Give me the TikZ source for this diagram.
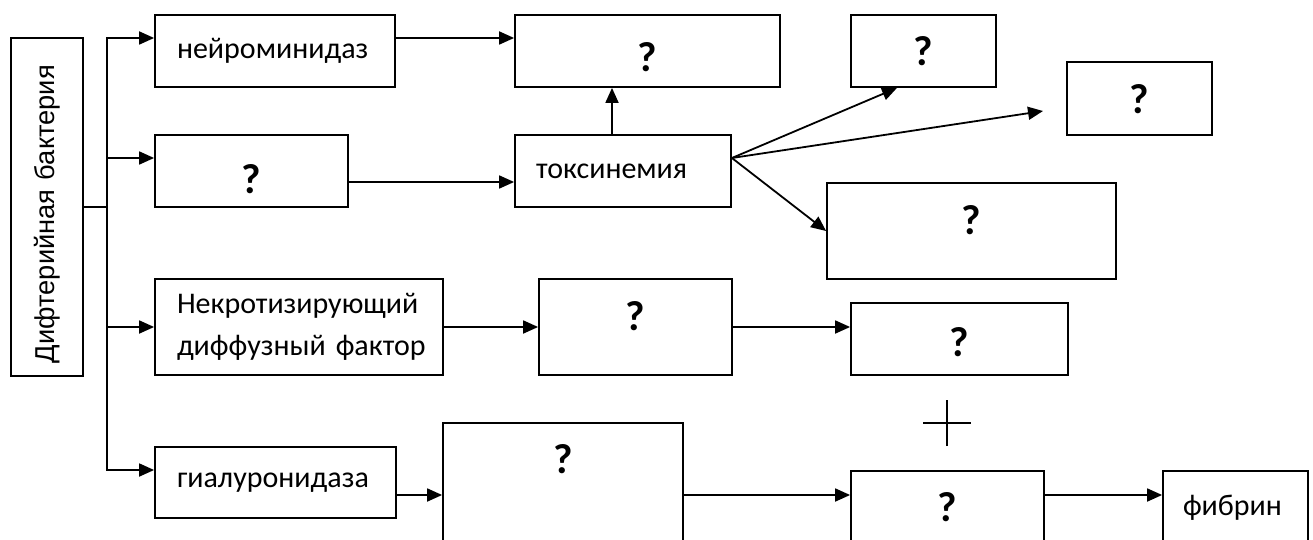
\documentclass[tikz,border=0pt]{standalone}
\usepackage{fontspec}
\setmainfont{Carlito}
\newfontfamily\arialfont{Liberation Sans}
\usetikzlibrary{arrows.meta,positioning,calc}
\tikzset{box/.style={draw,line width=1.8pt,inner sep=0pt,align=left,font=\fontsize{30}{42}\selectfont}, ask/.style={box,label={[font=\fontsize{42}{42}\selectfont\bfseries,inner sep=0pt,below=#1]north:?}}, ask/.default=23pt, flow/.style={-{Triangle[length=15pt,width=13pt]},line width=1.8pt}, link/.style={line width=1.8pt}}

\begin{document}
\begin{tikzpicture}[x=1pt,y=-1pt]
\useasboundingbox (0,0) rectangle (1313,540);
\clip (0,0) rectangle (1313,540);
\node[box,rotate=90,minimum width=338pt,minimum height=72pt,text width=312pt,font=\arialfont\fontsize{27.3}{30}\selectfont] (bact) at (47,207) {Дифтерийная бактерия};
\node[box,minimum width=240pt,minimum height=72pt,text width=196pt] (neur) at (275,51) {нейроминидаз};
\node[ask=30pt,minimum width=193pt,minimum height=72pt] (qtox) at (251.5,171) {};
\node[box,minimum width=288pt,minimum height=96pt,text width=244pt] (necr) at (299,327) {\mbox{Некротизирующий}\\\mbox{диффузный фактор}};
\node[box,minimum width=241pt,minimum height=71pt,text width=197pt] (hyal) at (275.5,482.5) {гиалуронидаза};
\node[ask=28pt,minimum width=265pt,minimum height=72pt] (qtop) at (647.5,51) {};
\node[box,minimum width=216pt,minimum height=72pt,text width=174pt] (toks) at (623,171) {токсинемия};
\node[ask=22pt,minimum width=145pt,minimum height=72pt] (qorg1) at (923.5,51) {};
\node[ask,minimum width=145pt,minimum height=73pt] (qorg2) at (1139.5,98.5) {};
\node[ask,minimum width=289pt,minimum height=96pt] (qorg3) at (971.5,231) {};
\node[ask,minimum width=193pt,minimum height=96pt] (qnec1) at (635.5,327) {};
\node[ask=25pt,minimum width=217pt,minimum height=72pt] (qnec2) at (959.5,339) {};
\node[ask=22pt,minimum width=240pt,minimum height=177pt] (qhyal) at (563,511.5) {};
\node[ask=22pt,minimum width=193pt,minimum height=74pt] (qfib) at (947.5,508) {};
\node[box,minimum width=145pt,minimum height=74pt,text width=105pt] (fibr) at (1235.5,508) {фибрин};
\coordinate (fork) at (107,207);
\coordinate (far) at (1043,111);
\coordinate (row4) at (0,495);
\coordinate (plus) at (947,423);
\draw[link] (bact.south)--(fork);
\draw[flow] (fork)|-([yshift=13pt]neur.west);
\draw[flow] (fork)|-([yshift=13pt]qtox.west);
\draw[flow] (fork)|-(necr.west);
\draw[flow] (fork)|-([yshift=12.5pt]hyal.west);
\draw[flow] ([yshift=13pt]neur.east)--([yshift=13pt]qtop.west);
\draw[flow] ([yshift=-11pt]qtox.east)--([yshift=-11pt]toks.west);
\draw[flow] ([xshift=-11pt]toks.north)--([xshift=-11pt]toks.north|-qtop.south);
\draw[flow] ([yshift=13pt]toks.east)--([xshift=-26.5pt]qorg1.south);
\draw[flow] ([yshift=13pt]toks.east)--(far);
\draw[flow] ([yshift=13pt]toks.east)--(qorg3.west);
\draw[flow] (necr.east)--(qnec1.west);
\draw[flow] (qnec1.east)--(qnec1.east-|qnec2.west);
\draw[flow] (hyal.east|-row4)--(qhyal.west|-row4);
\draw[flow] (qhyal.east|-row4)--(qfib.west|-row4);
\draw[flow] (qfib.east|-row4)--(fibr.west|-row4);
\draw[line width=1.3pt] ([xshift=-24pt]plus)--([xshift=24pt]plus) ([yshift=-23pt]plus)--([yshift=23pt]plus);
\end{tikzpicture}
\end{document}
